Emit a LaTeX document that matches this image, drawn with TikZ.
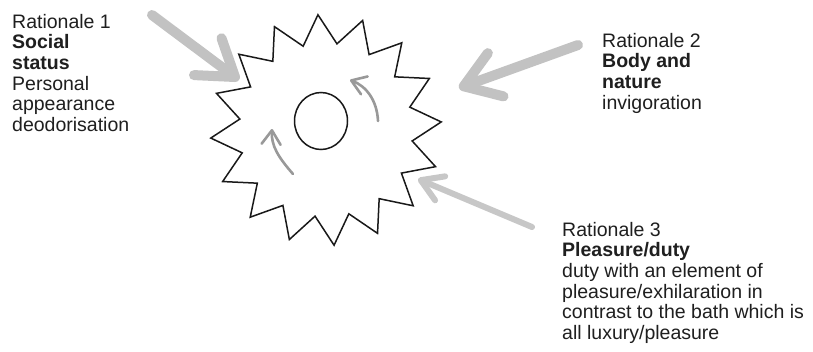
\documentclass[tikz,border=0pt]{standalone}
\usepackage{fontspec}
\setmainfont{Liberation Sans}
\usetikzlibrary{positioning}
\usetikzlibrary{arrows.meta}
\usetikzlibrary{shapes.geometric}

\begin{document}
\begin{tikzpicture}[
        x=1pt, y=-1pt,
        textnode/.style={anchor=north west, inner sep=0pt, align=left, text=black!88, font=\fontsize{19.5}{20.6}\selectfont},
        bigarrow/.style={line width=10pt, draw=black!24, line cap=round, -{Straight Barb[round,length=34pt,width=46pt]}},
        thinarrow/.style={line width=6pt, draw=black!22, line cap=round, -{Straight Barb[round,length=21pt,width=26pt]}},
        swirl/.style={line width=2.6pt, draw=black!40, line cap=round, -{Straight Barb[round,length=14pt,width=19pt]}}
    ]
        \useasboundingbox[fill=white] (0,0) rectangle (813,351);

        \node [star, star points=16, star point ratio=1.33, shape border rotate=4, minimum size=231pt, inner sep=0pt, draw=black!90, line width=1.5pt] (tub) at (326,130) {};
        \node [ellipse, minimum width=53pt, minimum height=57pt, inner sep=0pt, draw=black!90, line width=1.5pt] (body) at (321,121) {};

        \node [textnode] (rat1) at (12,14) {Rationale 1\\\textbf{Social}\\\textbf{status}\\Personal\\appearance\\deodorisation};
        \node [textnode] (rat2) at (602,33) {Rationale 2\\\textbf{Body and}\\\textbf{nature}\\invigoration};
        \node [textnode] (rat3) at (562,222) {Rationale 3\\\textbf{Pleasure/duty}\\duty with an element of\\pleasure/exhilaration in\\contrast to the bath which is\\all luxury/pleasure};

        \coordinate (tail1) at (152,15);
        \coordinate (tip1) at (239,80);
        \coordinate (tail2) at (578,45);
        \coordinate (tip2) at (459,88);
        \coordinate (tail3) at (532,227);
        \coordinate (tip3) at (418,179);

        \draw [bigarrow] (tail1) -- (tip1);
        \draw [bigarrow] (tail2) -- (tip2);
        \draw [thinarrow] (tail3) -- (tip3);

        \coordinate (swirlA) at (293,174);
        \coordinate (swirlB) at (378,121);
        \draw [swirl] (swirlA) .. controls (279,158) and (271,146) .. (272,129);
        \draw [swirl] (swirlB) .. controls (377,100) and (366,86) .. (350,80);

    \end{tikzpicture}
\end{document}
